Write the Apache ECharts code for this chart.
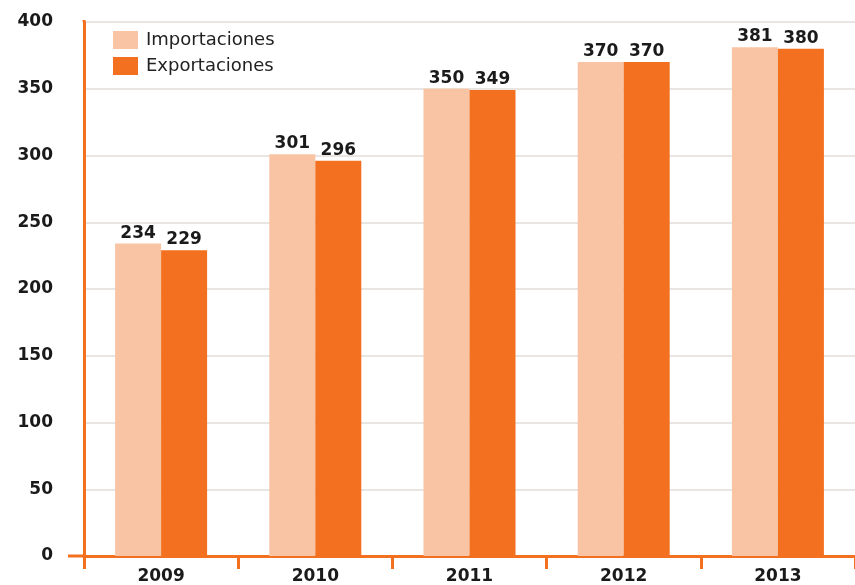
<!DOCTYPE html>
<html>
<head>
<meta charset="utf-8">
<script src="https://cdn.jsdelivr.net/npm/echarts@6/dist/echarts.min.js"></script>
<style>
  html, body { margin: 0; padding: 0; background: #fff; }
  #main { width: 855px; height: 585px; }
</style>
</head>
<body>
<div id="main"></div>
<script>
var years = ['2009', '2010', '2011', '2012', '2013'];
var importaciones = [234, 301, 350, 370, 381];
var exportaciones = [229, 296, 349, 370, 380];
var yTicks = [0, 50, 100, 150, 200, 250, 300, 350, 400];

var orange = '#f37021';
var lightOrange = '#f8c4a4';
var font = 'DejaVu Sans, Verdana, sans-serif';

var myChart = echarts.init(document.getElementById('main'));

function labelOpt() {
    return {
        show: true,
        position: 'top',
        distance: 2,
        color: '#1a1a1a',
        fontFamily: font,
        fontWeight: 'bold',
        fontSize: 17
    };
}

myChart.setOption({
    animation: false,
    grid: { left: 84, right: -4, top: 22, bottom: 29, containLabel: false },
    legend: {
        left: 113,
        top: 31,
        padding: 0,
        orient: 'vertical',
        itemWidth: 25,
        itemHeight: 18,
        itemGap: 8,
        icon: 'rect',
        textStyle: { fontFamily: font, fontSize: 18, color: '#222', padding: [0, 0, 0, 3] },
        data: ['Importaciones', 'Exportaciones']
    },
    xAxis: {
        type: 'category',
        data: years,
        axisLine: { lineStyle: { color: orange, width: 3 } },
        axisTick: { show: true, length: 13, lineStyle: { color: orange, width: 3 } },
        axisLabel: {
            margin: 12,
            color: '#1a1a1a',
            fontFamily: font,
            fontWeight: 'bold',
            fontSize: 17
        }
    },
    yAxis: {
        type: 'value',
        min: yTicks[0],
        max: yTicks[yTicks.length - 1],
        interval: 50,
        axisLine: { show: true, lineStyle: { color: orange, width: 3 } },
        axisTick: { show: false },
        splitLine: { lineStyle: { color: '#e2dcd8', width: 1.5 } },
        axisLabel: {
            margin: 31,
            color: '#1a1a1a',
            fontFamily: font,
            fontWeight: 'bold',
            fontSize: 17
        }
    },
    series: [
        {
            name: 'Importaciones',
            type: 'bar',
            data: importaciones,
            barWidth: 46,
            barGap: '0%',
            itemStyle: { color: lightOrange },
            label: labelOpt()
        },
        {
            name: 'Exportaciones',
            type: 'bar',
            data: exportaciones,
            barWidth: 46,
            barGap: '0%',
            itemStyle: { color: orange },
            label: labelOpt()
        }
    ],
    graphic: [
        // short stubs where the axes run past each other
        { type: 'line', shape: { x1: 68, y1: 556, x2: 84, y2: 556 }, style: { stroke: orange, lineWidth: 3 } },
        { type: 'line', shape: { x1: 84, y1: 20, x2: 84, y2: 22 }, style: { stroke: orange, lineWidth: 3 } }
    ]
});
</script>
</body>
</html>
